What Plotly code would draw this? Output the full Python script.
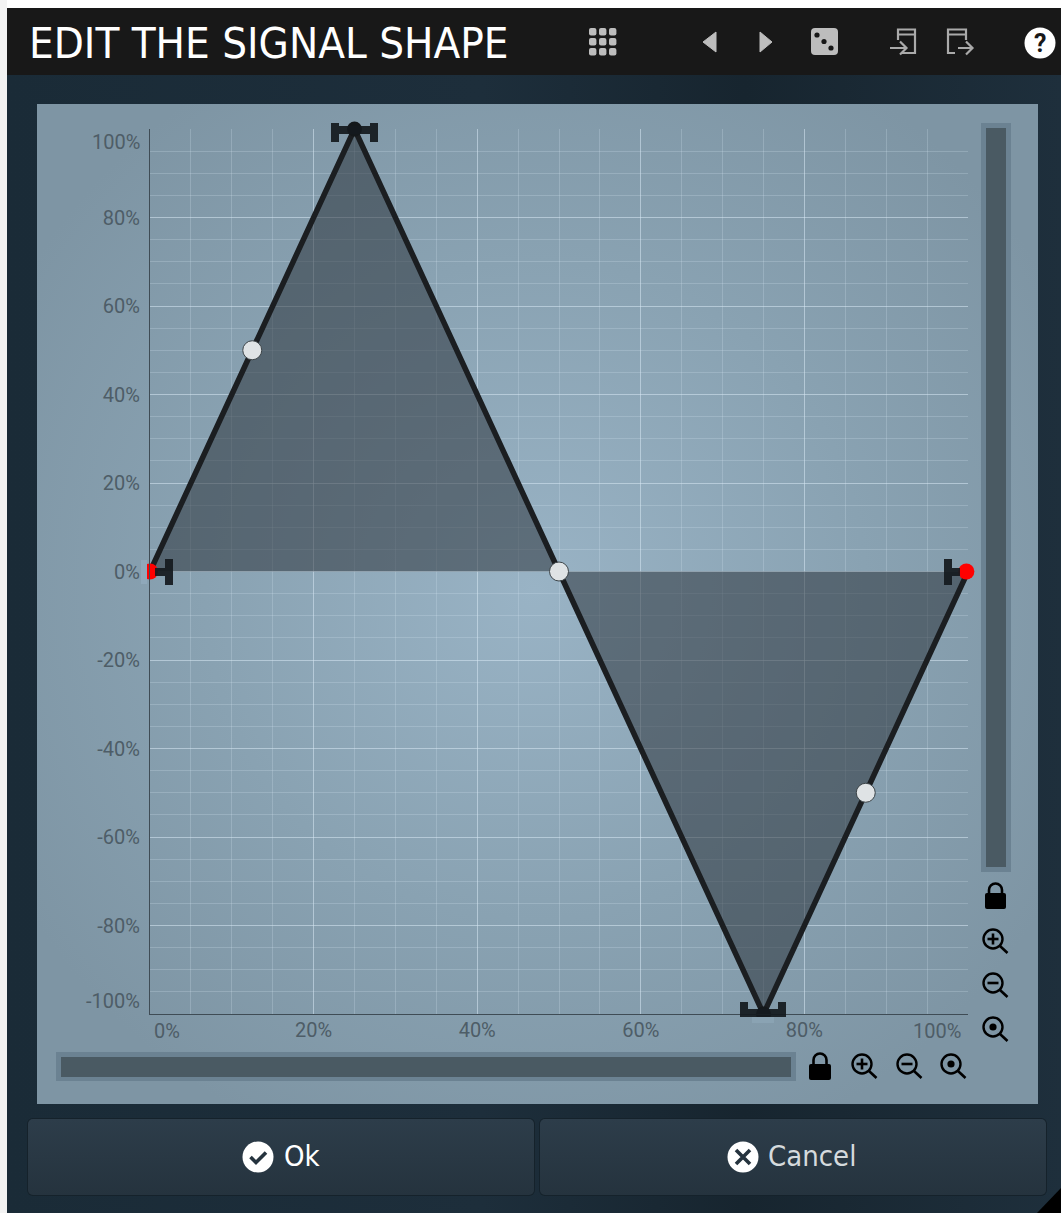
import base64
import plotly.graph_objects as go

# ---- data ----
shape_x = [0, 25, 50, 75, 100]
shape_y = [0, 100, 0, -100, 0]
mid_x = [12.5, 50, 87.5]
mid_y = [50, 0, -50]
end_x = [0, 99.8]
end_y = [0, 0]
peak_x = [25, 75]
peak_y = [100, -100]
x_ticks = [20, 40, 60, 80]
y_ticks = [-80, -60, -40, -20, 0, 20, 40, 60, 80]
x_minor = [v for v in range(5, 100, 5)]
y_minor = [v for v in range(-95, 100, 5)]
x_labels = ["20%", "40%", "60%", "80%"]
y_labels = ["-80%", "-60%", "-40%", "-20%", "0%", "20%", "40%", "60%", "80%"]
title_text = "EDIT THE SIGNAL SHAPE"
ok_text = "Ok"
cancel_text = "Cancel"

W, H = 1061, 1213
L, R, T, B = 150, 968, 129, 1014
NARROW = "DejaVu Sans Condensed, Roboto Condensed, Roboto"


def px(x):
    return x / W


def py(y):
    return 1 - y / H


def magnifier(cx, cy, kind):
    s = f'<circle cx="{cx}" cy="{cy}" r="9.5" fill="none" stroke="#000" stroke-width="2.4"/>'
    s += f'<path d="M{cx+7} {cy+7} L{cx+14.5} {cy+14}" stroke="#000" stroke-width="2.6" fill="none"/>'
    if kind in ("plus", "minus"):
        s += f'<path d="M{cx-5.5} {cy} H{cx+5.5}" stroke="#000" stroke-width="2.6"/>'
    if kind == "plus":
        s += f'<path d="M{cx} {cy-5.5} V{cy+5.5}" stroke="#000" stroke-width="2.6"/>'
    if kind == "dot":
        s += f'<circle cx="{cx}" cy="{cy}" r="3.6" fill="#000"/>'
    return s


def lock(x0, x1, y0, y1, top):
    c = (x0 + x1) / 2
    return (f'<path d="M{c-6.5} {y0} V{top+7} A6.5 6.5 0 0 1 {c+6.5} {top+7} V{y0}" fill="none" stroke="#000" stroke-width="2.6"/>'
            f'<rect x="{x0}" y="{y0}" width="{x1-x0}" height="{y1-y0}" rx="2" fill="#000"/>')


def button(x0, x1):
    return (f'<rect x="{x0-1}" y="1118" width="{x1-x0+2}" height="78" rx="6" fill="#15222b"/>'
            f'<rect x="{x0}" y="1119" width="{x1-x0}" height="76" rx="5" fill="url(#btn)"/>')


g = "#bdbdbd"
dots = "".join(
    f'<rect x="{589+10*i}" y="{28+10*j}" width="7.4" height="7.4" rx="2" fill="{g}"/>'
    for i in range(3) for j in range(3)
)
svg = f'''<svg xmlns="http://www.w3.org/2000/svg" width="{W}" height="{H}" viewBox="0 0 {W} {H}">
<defs>
<radialGradient id="pan" gradientUnits="userSpaceOnUse" cx="535" cy="590" r="600">
<stop offset="0" stop-color="#99b3c5"/><stop offset="0.55" stop-color="#89a2b2"/><stop offset="1" stop-color="#7e95a4"/></radialGradient>
<linearGradient id="out" x1="0" y1="0" x2="1" y2="0">
<stop offset="0" stop-color="#1a2b37"/><stop offset="0.45" stop-color="#1d2e3b"/><stop offset="0.7" stop-color="#17252f"/><stop offset="1" stop-color="#1e2f3c"/></linearGradient>
<linearGradient id="btn" x1="0" y1="0" x2="0" y2="1">
<stop offset="0" stop-color="#2d3d4a"/><stop offset="1" stop-color="#25333e"/></linearGradient>
</defs>
<rect width="{W}" height="{H}" fill="#ffffff"/>
<rect x="0" y="0" width="7" height="{H}" fill="#f3f3f3"/>
<rect x="7" y="8" width="{W-7}" height="{H-8}" fill="url(#out)"/>
<rect x="7" y="8" width="{W-7}" height="67" fill="#181818"/>
<rect x="37" y="104" width="1001" height="1000" fill="url(#pan)"/>
<rect x="981" y="123" width="30" height="749" fill="#6b8292"/>
<rect x="986" y="128" width="20" height="739" fill="#4a5a63"/>
<rect x="56" y="1052" width="740" height="29" fill="#6b8292"/>
<rect x="61" y="1057" width="730" height="20" fill="#4a5a63"/>
{button(28, 534)}{button(540, 1046)}
<path d="M1061 1188 V1213 H1037 Z" fill="#000"/>
{dots}
<path d="M703 42 L716 32 V52 Z M772 42 L760 32 V52 Z" fill="{g}" stroke="{g}" stroke-linejoin="round"/>
<rect x="811" y="28" width="27" height="27" rx="4" fill="{g}"/>
<circle cx="817" cy="35" r="2.6" fill="#181818"/><circle cx="824" cy="41.5" r="2.6" fill="#181818"/><circle cx="831" cy="48" r="2.6" fill="#181818"/>
<g fill="none" stroke="#aaaaaa" stroke-width="2.2">
<path d="M898 40 V29.5 H915 V53 H902 M898 34.5 H915 M890 48 H906 M900 41.5 L906.5 48 L900 54.5"/>
<path d="M966 40 V29.5 H948 V53 H955 M948 34.5 H966 M958 48 H972 M966 41.5 L972.5 48 L966 54.5"/>
</g>
<circle cx="1040" cy="43" r="15.5" fill="#ffffff"/>
{lock(985, 1006, 893, 909, 883)}{magnifier(993, 939, "plus")}{magnifier(993, 983, "minus")}{magnifier(993, 1027, "dot")}
{lock(809, 831, 1064, 1080, 1053)}{magnifier(862, 1064, "plus")}{magnifier(907, 1064, "minus")}{magnifier(951, 1064, "dot")}
<circle cx="258" cy="1157" r="15.5" fill="#ffffff"/>
<path d="M250.5 1157 L256 1162.5 L266 1152.5" fill="none" stroke="#25333e" stroke-width="3.6"/>
<circle cx="743" cy="1157" r="15.5" fill="#ffffff"/>
<path d="M736 1150 L750 1164 M750 1150 L736 1164" fill="none" stroke="#25333e" stroke-width="3.6"/>
</svg>'''
uri = "data:image/svg+xml;base64," + base64.b64encode(svg.encode()).decode()

fig = go.Figure()
fig.add_trace(go.Scatter(
    x=shape_x, y=shape_y, mode="lines", fill="tozeroy",
    fillcolor="rgba(42,50,56,0.53)",
    line=dict(color="#1b1e21", width=5.5), hoverinfo="skip", cliponaxis=False,
))
fig.add_trace(go.Scatter(
    x=peak_x, y=peak_y, mode="markers", cliponaxis=False, hoverinfo="skip",
    marker=dict(size=15, color="#14181b"),
))
fig.add_trace(go.Scatter(
    x=mid_x, y=mid_y, mode="markers", cliponaxis=False, hoverinfo="skip",
    marker=dict(size=19, color="#dfe3e5", line=dict(color="#3c4448", width=1)),
))
fig.add_trace(go.Scatter(
    x=end_x, y=end_y, mode="markers", cliponaxis=False, hoverinfo="skip",
    marker=dict(size=16, color="#ff0000"),
))

HC = "rgba(20,26,30,0.93)"


def rect(x0, y0, x1, y1, color=HC):
    return dict(type="rect", xref="paper", yref="paper", x0=px(x0), x1=px(x1),
                y0=py(y0), y1=py(y1), fillcolor=color, line_width=0, layer="above")


shapes = [
    # top handle
    rect(331, 123, 339, 142), rect(370, 123, 378, 142), rect(339, 126, 370, 134),
    # trims the bottom dot
    rect(752, 1017, 774, 1023, "#8aa3b3"),
    # bottom handle
    rect(740, 1002, 748, 1017), rect(778, 1002, 786, 1017), rect(748, 1009, 778, 1017),
    # left handle
    rect(165, 559, 173, 585), rect(155, 568, 165, 576),
    # right handle
    rect(944, 559, 952, 585), rect(952, 568, 960, 576),
    # trims the left end dot
    rect(141, 560, 147, 584, "#8fa8ba"),
]

text_color = "#4e5d67"
tick_font = dict(family="Roboto", size=20, color=text_color)
anns = [
    dict(x=0, y=-100, xref="x", yref="y", text="0%", showarrow=False, xshift=17, yshift=-17, font=tick_font),
    dict(x=100, y=-100, xref="x", yref="y", text="100%", showarrow=False, xshift=-31, yshift=-17, font=tick_font),
    dict(x=0, y=100, xref="x", yref="y", text="100%", showarrow=False, xanchor="right", xshift=-8, yshift=-13, font=tick_font),
    dict(x=0, y=-100, xref="x", yref="y", text="-100%", showarrow=False, xanchor="right", xshift=-8, yshift=13, font=tick_font),
    dict(x=px(27), y=py(43), xref="paper", yref="paper", text=title_text, showarrow=False,
         xanchor="left", yanchor="middle", font=dict(family=NARROW, size=43.5, color="#ffffff")),
    dict(x=px(282), y=py(1156), xref="paper", yref="paper", text=ok_text, showarrow=False,
         xanchor="left", yanchor="middle", font=dict(family=NARROW, size=29, color="#ffffff")),
    dict(x=px(766), y=py(1156), xref="paper", yref="paper", text=cancel_text, showarrow=False,
         xanchor="left", yanchor="middle", font=dict(family=NARROW, size=29, color="#d5dadd")),
    dict(x=px(1040), y=py(43), xref="paper", yref="paper", text="<b>?</b>", showarrow=False,
         xanchor="center", yanchor="middle", font=dict(family="Roboto", size=25, color="#181818")),
]

fig.update_layout(
    width=W, height=H, margin=dict(l=0, r=0, t=0, b=0),
    paper_bgcolor="#ffffff", plot_bgcolor="rgba(0,0,0,0)", showlegend=False,
    images=[dict(source=uri, xref="paper", yref="paper", x=0, y=1, sizex=1, sizey=1,
                 xanchor="left", yanchor="top", sizing="stretch", layer="below")],
    shapes=shapes, annotations=anns,
    xaxis=dict(
        domain=[px(L), px(R)], range=[0, 100], tickmode="array", tickvals=x_ticks, ticktext=x_labels,
        showgrid=True, gridcolor="rgba(215,232,242,0.42)", gridwidth=1, zeroline=False,
        showline=True, linecolor="#3f4c55", linewidth=1, ticks="",
        tickfont=tick_font, ticklabelstandoff=-2,
        minor=dict(tickmode="array", tickvals=x_minor, showgrid=True, gridcolor="rgba(215,232,242,0.24)", gridwidth=1, ticks=""),
    ),
    yaxis=dict(
        domain=[py(B), py(T)], range=[-100, 100], tickmode="array", tickvals=y_ticks, ticktext=y_labels,
        showgrid=True, gridcolor="rgba(215,232,242,0.42)", gridwidth=1, zeroline=False,
        showline=True, linecolor="#3f4c55", linewidth=1, ticks="",
        tickfont=tick_font, ticklabelstandoff=5,
        minor=dict(tickmode="array", tickvals=y_minor, showgrid=True, gridcolor="rgba(215,232,242,0.24)", gridwidth=1, ticks=""),
    ),
)

fig.write_html("out.html", config=dict(displayModeBar=False),
               post_script="document.body.style.margin='0';document.body.style.overflow='hidden';")
